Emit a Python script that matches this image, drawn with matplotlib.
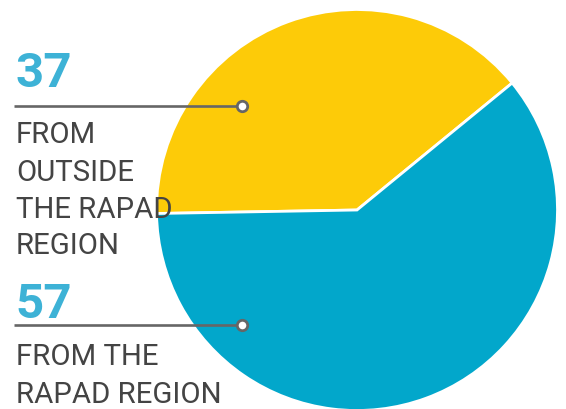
import matplotlib
matplotlib.use("Agg")
import matplotlib.pyplot as plt

values = [37, 57]
colors = ["#FDCB08", "#02A7CB"]
numbers = ["37", "57"]
labels = [["FROM", "OUTSIDE", "THE RAPAD", "REGION"], ["FROM THE", "RAPAD REGION"]]

W, H = 566, 410
fig = plt.figure(figsize=(W / 100, H / 100), dpi=100)
ax = fig.add_axes([0, 0, 1, 1])
ax.set_xlim(0, W)
ax.set_ylim(0, H)
ax.set_aspect("equal")
ax.axis("off")

ax.pie(values, colors=colors, center=(357, H - 211), radius=200.5,
       startangle=181, counterclock=False,
       wedgeprops=dict(edgecolor="white", linewidth=2))
ax.set_xlim(0, W)
ax.set_ylim(0, H)

def Y(px):
    return H - px

num_base = [87, 318]
line_y = [107, 326]
label_base = [[143, 181, 218, 254], [365, 403]]

for i in range(2):
    ax.text(15, Y(num_base[i]), numbers[i], fontsize=35.5, fontweight="bold",
            family="Roboto", color="#3DB2D6", va="baseline", ha="left", zorder=5)
    ax.plot([14, 238], [Y(line_y[i])] * 2, color="#666666", lw=1.9,
            solid_capstyle="butt", zorder=5)
    ax.plot([242], [Y(line_y[i])], marker="o", ms=7.5, mfc="white",
            mec="#666666", mew=2.0, zorder=6)
    for t, b in zip(labels[i], label_base[i]):
        ax.text(16, Y(b), t, fontsize=21.2, family="Roboto",
                color="#444444", va="baseline", ha="left", zorder=5)

fig.savefig("out.png", dpi=100)
